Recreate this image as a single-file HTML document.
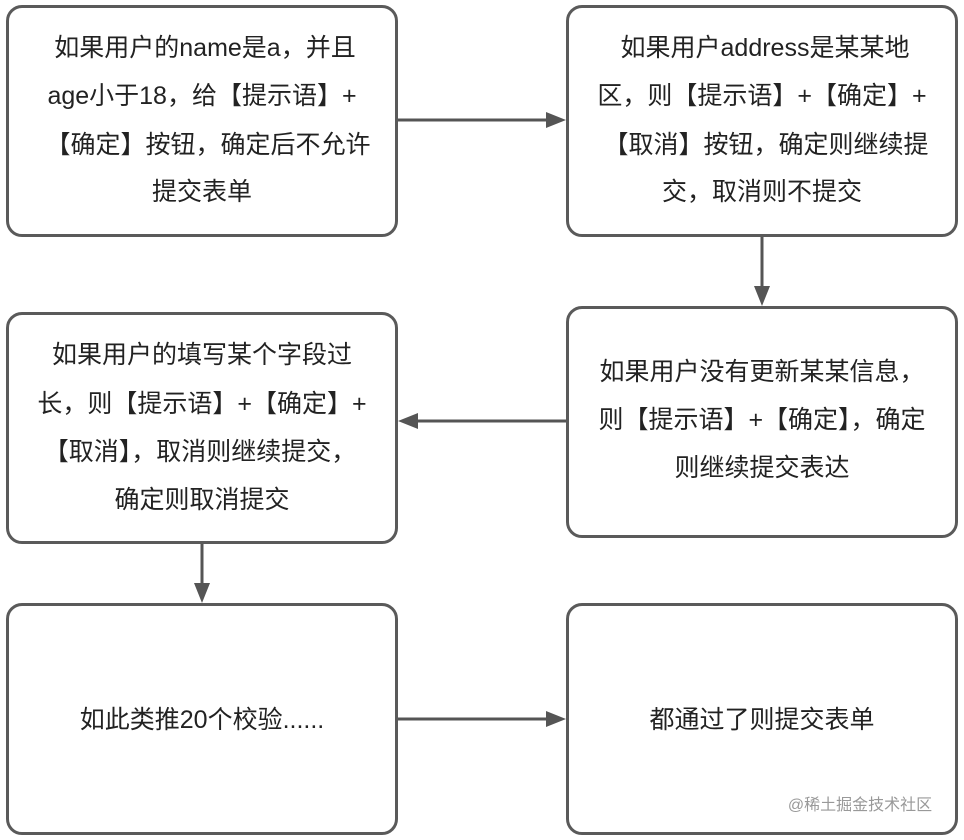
<!DOCTYPE html>
<html><head><meta charset="utf-8"><style>
body{margin:0;width:964px;height:840px;background:#fff;position:relative;overflow:hidden;font-family:"Liberation Sans","Noto Sans CJK SC",sans-serif;color:#222}
.b{position:absolute;box-sizing:border-box;border:3px solid #5a5a5a;border-radius:16px;background:#fff}
.t{position:absolute;white-space:nowrap;font-size:25px;line-height:30px;transform:translate(-50%,-50%)}
svg{position:absolute;left:0;top:0}
</style></head><body>
<div class="b" style="left:6px;top:5px;width:392px;height:232px"></div>
<div class="b" style="left:566px;top:5px;width:392px;height:232px"></div>
<div class="b" style="left:566px;top:306px;width:392px;height:232px"></div>
<div class="b" style="left:6px;top:312px;width:392px;height:232px"></div>
<div class="b" style="left:6px;top:603px;width:392px;height:232px"></div>
<div class="b" style="left:566px;top:603px;width:392px;height:232px"></div>
<svg width="964" height="840">
<g stroke="#555" stroke-width="3" fill="#555">
<line x1="398" y1="120" x2="548" y2="120"/><polygon points="566,120 546,112 546,128" stroke="none"/>
<line x1="762" y1="237" x2="762" y2="288"/><polygon points="762,306 754,286 770,286" stroke="none"/>
<line x1="566" y1="421" x2="416" y2="421"/><polygon points="398,421 418,413 418,429" stroke="none"/>
<line x1="202" y1="544" x2="202" y2="585"/><polygon points="202,603 194,583 210,583" stroke="none"/>
<line x1="398" y1="719" x2="548" y2="719"/><polygon points="566,719 546,711 546,727" stroke="none"/>
</g></svg>
<div class="t" style="left:205px;top:48px">如果用户的name是a，并且</div>
<div class="t" style="left:202px;top:96px">age小于18，给【提示语】+</div>
<div class="t" style="left:208px;top:145px">【确定】按钮，确定后不允许</div>
<div class="t" style="left:202px;top:192px">提交表单</div>
<div class="t" style="left:765px;top:48px">如果用户address是某某地</div>
<div class="t" style="left:762px;top:96px">区，则【提示语】+【确定】+</div>
<div class="t" style="left:766px;top:145px">【取消】按钮，确定则继续提</div>
<div class="t" style="left:762px;top:192px">交，取消则不提交</div>
<div class="t" style="left:762px;top:372px">如果用户没有更新某某信息，</div>
<div class="t" style="left:762px;top:420px">则【提示语】+【确定】，确定</div>
<div class="t" style="left:762px;top:468px">则继续提交表达</div>
<div class="t" style="left:202px;top:355px">如果用户的填写某个字段过</div>
<div class="t" style="left:202px;top:404px">长，则【提示语】+【确定】+</div>
<div class="t" style="left:200px;top:452px">【取消】，取消则继续提交，</div>
<div class="t" style="left:202px;top:500px">确定则取消提交</div>
<div class="t" style="left:202px;top:720px">如此类推20个校验......</div>
<div class="t" style="left:762px;top:720px">都通过了则提交表单</div>
<div class="t" style="left:860px;top:806px;font-size:16px;color:#999">@稀土掘金技术社区</div>
</body></html>
